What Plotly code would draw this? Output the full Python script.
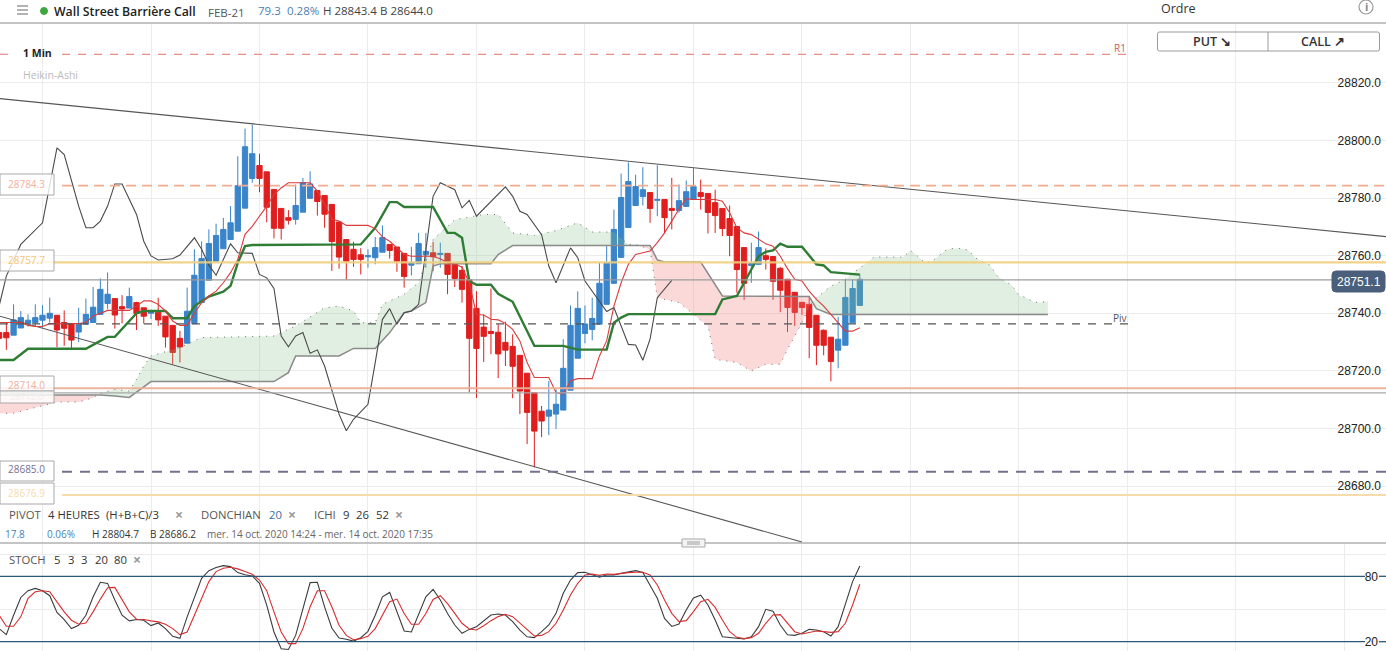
import numpy as np
import plotly.graph_objects as go

W, H = 1386, 651
BAR_PX, BAR0_PX = 7.233, 42.5   # chart scale: one 1-minute bar, and where bar 0 sits

bar_index = list(range(-6, 114))
opens = [28733.3,28733.3,28732.4,28734.9,28736.4,28736.8,28737.6,28738.3,28739.3,28736.8,28736.4,28733.5,28736.2,28736.8,28739.6,28743.4,28745.1,28742.3,28741.8,28743.7,
28741.9,28740.0,28740.4,28739.0,28735.8,28731.3,28729.6,28736.4,28743.7,28751.5,28758.1,28762.4,28765.6,28768.5,28776.5,28786.8,28791.3,28789.1,28783.0,28776.4,
28773.2,28772.6,28775.1,28779.9,28782.6,28780.9,28777.8,28771.7,28765.6,28762.2,28760.3,28759.6,28759.3,28761.2,28763.9,28763.0,28760.8,28756.7,28757.2,28760.3,
28761.0,28760.4,28760.8,28757.3,28754.9,28751.6,28741.7,28735.2,28733.7,28733.4,28729.9,28728.5,28725.4,28719.2,28712.4,28706.0,28704.3,28705.0,28706.4,28713.3,
28724.4,28733.0,28734.4,28736.2,28743.1,28750.4,28759.4,28769.8,28777.4,28780.5,28781.9,28779.2,28779.5,28776.4,28775.7,28777.1,28779.5,28781.9,28781.6,28778.4,
28776.4,28772.9,28770.1,28762.8,28756.6,28757.0,28760.0,28759.7,28755.6,28751.8,28747.3,28743.8,28743.1,28739.3,28734.1,28731.7,28727.2,28728.9,28736.7,28742.7]
highs = [28733.3,28736.7,28743.1,28740.8,28739.6,28743.1,28742.8,28745.4,28739.3,28741.0,28736.4,28741.9,28745.1,28749.1,28752.1,28754.2,28745.1,28746.3,28748.9,28744.0,
28741.9,28741.2,28745.4,28739.0,28735.8,28733.9,28748.9,28762.2,28765.0,28769.1,28771.1,28773.1,28777.2,28794.5,28804.1,28805.5,28795.4,28789.1,28783.0,28776.4,
28775.8,28784.7,28787.0,28789.3,28782.6,28780.9,28777.8,28771.7,28765.6,28764.8,28762.6,28762.2,28766.5,28770.5,28763.9,28763.0,28760.8,28763.1,28767.9,28767.9,
28764.8,28764.5,28760.8,28757.3,28756.4,28751.6,28747.7,28739.6,28748.6,28736.2,28737.1,28732.7,28725.4,28719.2,28712.4,28707.8,28716.5,28713.6,28731.0,28742.7,
28747.6,28742.7,28745.4,28757.5,28763.3,28776.0,28788.5,28792.4,28788.1,28790.7,28781.9,28791.4,28779.5,28787.0,28784.7,28786.1,28790.4,28786.4,28781.6,28782.9,
28776.4,28777.4,28770.1,28762.8,28764.5,28768.4,28762.5,28759.7,28756.1,28751.8,28747.3,28743.8,28745.9,28739.3,28734.4,28731.7,28738.8,28751.8,28751.8,28753.5]
lows = [28728.0,28727.3,28732.4,28734.9,28735.4,28735.4,28735.0,28736.8,28728.3,28728.7,28727.5,28730.0,28736.2,28736.8,28739.6,28741.4,28734.7,28736.5,28741.8,28734.2,
28736.4,28738.0,28735.6,28728.1,28722.3,28722.9,28729.6,28736.4,28743.7,28751.5,28758.1,28762.4,28765.6,28768.5,28776.5,28785.3,28782.0,28771.6,28766.0,28765.6,
28770.8,28770.8,28775.1,28779.9,28773.9,28769.7,28754.7,28755.5,28751.5,28756.1,28753.5,28755.8,28757.0,28761.2,28759.0,28754.4,28748.9,28753.1,28757.2,28755.8,
28754.6,28755.8,28746.6,28749.1,28743.7,28712.5,28710.6,28723.1,28725.8,28717.5,28721.7,28710.5,28705.0,28694.6,28686.5,28697.0,28697.7,28699.8,28706.4,28713.3,
28724.4,28729.6,28730.6,28736.2,28743.1,28750.4,28759.4,28769.8,28777.4,28777.4,28771.4,28773.7,28767.7,28769.1,28774.9,28777.1,28779.5,28776.0,28767.7,28767.9,
28766.8,28759.8,28747.1,28744.6,28750.6,28757.0,28755.2,28744.6,28740.4,28733.5,28735.6,28739.4,28724.4,28722.0,28725.4,28716.4,28720.9,28728.9,28736.7,28742.7]
closes = [28731.3,28731.5,28737.7,28738.5,28737.6,28738.5,28739.3,28740.0,28734.2,28734.8,28730.7,28736.1,28739.6,28742.1,28748.3,28746.6,28739.4,28741.5,28745.8,28739.9,
28739.0,28740.5,28737.7,28731.8,28726.4,28728.3,28740.7,28753.2,28759.0,28764.2,28767.0,28769.1,28771.4,28784.3,28797.8,28795.4,28786.8,28776.8,28769.5,28769.5,
28772.3,28777.4,28785.3,28784.9,28778.8,28774.4,28764.9,28759.5,28758.1,28758.7,28758.7,28760.0,28762.8,28766.3,28761.8,28758.1,28752.8,28757.6,28764.2,28761.5,
28759.6,28760.8,28753.5,28752.1,28748.3,28731.3,28727.8,28732.0,28733.0,28725.9,28727.2,28721.6,28713.0,28705.6,28699.1,28702.6,28706.4,28708.4,28720.9,28735.8,
28741.7,28736.3,28738.2,28750.4,28757.6,28769.1,28780.2,28785.7,28784.0,28782.9,28776.4,28779.5,28773.2,28775.7,28779.1,28782.2,28784.0,28780.5,28775.0,28773.9,
28769.4,28767.0,28755.2,28750.4,28757.3,28762.8,28758.7,28751.1,28748.0,28742.0,28740.3,28742.0,28735.1,28728.9,28728.9,28723.3,28731.0,28745.5,28748.6,28751.8]

tenkan_x = list(range(-6, 114))
tenkan = [28736.8,28736.8,28736.8,28736.8,28735.8,28735.4,28735.4,28736.4,28736.4,28736.4,28736.4,28736.4,28736.8,28739.1,28740.0,28741.0,28741.0,28741.0,28741.0,28742.5,
28744.3,28744.3,28743.1,28740.8,28737.3,28735.8,28735.8,28740.0,28743.7,28746.0,28747.7,28750.6,28754.1,28758.7,28767.4,28770.2,28773.7,28777.2,28781.2,28783.5,
28785.3,28785.3,28785.3,28785.3,28782.4,28777.8,28772.6,28772.0,28770.5,28770.5,28770.5,28770.5,28769.4,28766.5,28765.0,28762.7,28760.4,28759.8,28759.8,28759.8,
28759.8,28758.9,28757.5,28757.0,28756.1,28750.6,28739.6,28739.4,28737.9,28737.7,28736.5,28734.4,28730.4,28722.9,28717.7,28717.7,28717.7,28712.5,28711.9,28716.5,
28717.3,28717.3,28717.3,28725.2,28730.4,28742.5,28750.6,28757.0,28760.4,28761.0,28761.6,28764.5,28767.9,28772.0,28776.2,28779.8,28779.5,28779.5,28779.5,28779.5,
28778.9,28774.9,28769.7,28767.9,28767.3,28765.8,28764.1,28763.3,28759.8,28755.5,28751.8,28751.2,28747.7,28744.8,28742.5,28739.6,28736.7,28733.8,28733.8,28735.0]

kijun_x = [-6,-4,-2,6,8,9,10,13,14,17,18,20,21,23,25,26,27,28,29,44,46,48,49,50,54,56,57,58,59,60,62,63,65,68,72,74,78,79,80,81,93,94,96,99,100,101,102,103,105,107,108,109,113]
kijun = [28723.8,28723.8,28727.7,28727.7,28730.4,28731.8,28731.8,28740.0,28740.8,28740.8,28738.3,28738.3,28742.5,28745.8,28747.5,28749.5,28757.5,28763.3,28763.7,28763.9,28769.7,28778.6,28778.6,28776.9,28776.9,28767.9,28767.9,28766.2,28751.2,28749.9,28749.9,28746.8,28744.0,28728.7,28728.7,28727.4,28727.4,28736.7,28738.5,28739.7,28739.7,28744.8,28746.0,28759.8,28761.3,28761.8,28764.2,28763.1,28763.1,28757.0,28756.6,28754.3,28753.4]

chikou_x = [-6,-5,-3,0,2,3,5,6,7,8,9,10,11,13,14,15,16,18,19,21,22,23,24,26,27,29,30,31,32,33,34,35,36,37,38,39,41,42,43,44,45,46,47,48,49,50,51,52,53,54,55,57,58,59,60,64,65,66,67,69,70,71,73,74,75,76,78,79,81,82,83,84,85,87]
chikou = [28742.5,28752.9,28763.9,28771.4,28797.4,28795.1,28777.2,28769.7,28769.7,28772.0,28777.2,28784.9,28784.9,28774.3,28765.0,28759.9,28758.5,28758.9,28760.2,28766.2,28762.2,28756.7,28753.2,28764.1,28761.0,28760.8,28753.5,28752.3,28748.6,28732.1,28728.4,28732.1,28733.3,28726.1,28727.3,28721.7,28705.0,28699.2,28703.2,28705.9,28708.4,28722.9,28737.9,28741.6,28736.2,28740.2,28740.8,28743.1,28762.2,28780.6,28785.3,28782.9,28776.6,28779.2,28773.7,28783.9,28780.6,28775.4,28774.3,28767.3,28756.4,28750.6,28762.7,28759.3,28751.2,28747.7,28740.6,28742.0,28729.2,28729.0,28723.7,28731.0,28745.4,28751.4]

senkou_a_x = [-6,-4,-1,2,5,7,8,10,12,13,14,15,19,22,23,26,32,35,39,41,43,44,46,47,50,52,54,57,60,61,63,65,68,71,74,76,79,81,82,84,85,88,92,93,96,98,100,102,103,105,106,107,109,111,113,114,115,116,119,120,121,122,123,124,125,126,127,128,129,130,131,132,133,134,135,136,137,138,139]
senkou_a = [28705.3,28705.3,28707.3,28709.2,28709.2,28710.7,28712.2,28713.6,28713.0,28717.1,28721.7,28725.2,28728.1,28731.6,28731.6,28731.8,28732.1,28735.6,28741.9,28742.5,28740.8,28736.7,28736.7,28743.1,28746.6,28750.6,28765.6,28772.5,28773.7,28774.3,28774.3,28767.9,28767.0,28768.7,28771.4,28768.2,28768.2,28763.9,28763.9,28762.2,28745.4,28743.7,28735.6,28724.0,28722.9,28720.0,28722.3,28722.3,28727.5,28736.7,28742.5,28745.4,28749.4,28751.8,28755.8,28757.5,28759.6,28759.5,28759.5,28761.8,28759.8,28757.5,28758.1,28760.2,28762.1,28762.5,28762.5,28761.9,28759.2,28757.8,28756.7,28752.9,28751.1,28749.8,28746.2,28745.4,28743.9,28743.7,28744.2]
senkou_b_x = [-6,8,10,12,15,32,34,35,41,43,46,48,50,51,53,54,55,62,63,65,84,85,86,91,94,106,107,109,139]
senkou_b = [28711.6,28711.6,28711.3,28710.8,28716.3,28716.3,28719.4,28725.2,28725.2,28727.8,28727.8,28733.3,28740.2,28740.8,28743.7,28756.4,28757.2,28757.2,28760.4,28763.5,28763.5,28758.5,28757.8,28757.8,28746.0,28745.8,28741.6,28739.6,28739.6]
cloud_red_spans = [(-6, 7.6), (82.6, 106.5)]
cloud_green_spans = [(7.6, 82.6), (106.5, 139)]

stoch_k = [32.0,26.5,44.3,60.6,66.8,68.9,66.8,62.2,46.8,40.3,32.0,35.1,44.3,61.2,74.5,73.5,58.2,44.3,39.1,40.3,39.7,34.8,37.2,32.0,24.9,23.1,42.8,61.2,78.2,85.2,88.0,89.8,88.9,83.4,81.5,80.3,73.5,53.5,28.9,13.5,12.9,25.8,50.5,74.2,74.5,52.0,32.6,23.4,22.2,20.6,23.7,29.5,44.3,61.2,65.2,47.4,29.8,28.9,45.8,61.2,68.0,58.2,45.8,
35.3,27.7,31.3,33.8,39.3,44.5,45.4,44.5,38.4,30.7,24.5,23.7,29.2,35.3,46.0,64.4,76.6,83.4,83.7,81.2,79.1,81.2,81.2,82.8,83.7,85.2,83.4,72.0,59.8,41.4,34.0,36.2,49.1,60.1,62.6,53.7,39.9,24.5,23.7,23.1,22.5,24.5,33.8,49.7,47.9,35.3,26.4,25.8,27.7,31.3,30.7,29.2,25.2,33.8,55.2,75.1,89.5]
stoch_d = [44.3,34.2,34.2,42.8,59.7,65.8,66.8,65.8,56.6,47.4,39.7,36.0,37.2,47.4,59.1,69.5,69.8,58.2,47.4,40.6,40.3,39.1,38.2,36.0,32.0,26.5,28.9,44.3,59.7,75.1,84.3,87.4,88.3,86.8,84.3,81.8,76.6,66.8,47.4,28.9,18.2,18.2,32.0,52.0,66.8,66.8,52.0,35.1,25.8,21.8,22.8,24.9,32.0,44.3,56.6,59.1,45.8,36.0,36.0,45.8,58.8,62.2,55.0,
46.0,36.9,31.7,30.7,34.7,39.3,43.0,45.1,43.0,36.9,30.7,25.2,25.8,29.2,36.9,49.1,62.9,73.6,81.2,82.1,80.9,82.1,81.8,82.8,83.4,83.7,83.7,81.2,72.0,58.3,46.0,38.4,39.3,47.6,56.7,58.9,51.5,39.9,29.2,24.0,22.8,23.7,27.7,36.9,44.5,44.8,36.9,29.2,27.1,28.3,29.8,29.2,28.6,29.2,36.9,53.7,72.7]

trend_upper_x = [-5.9, 185.8]
trend_upper = [28814.5, 28766.6]
trend_lower_x = [-5.9, 105]
trend_lower = [28739.0, 28660.6]

price_ticks = [28680,28700,28720,28740,28760,28780,28800,28820]
stoch_ticks = [20,50,80,100]
stoch_tick_text = ["20","","80",""]
level_r1 = 28829.9
level_resist = 28784.3
level_yellow = 28757.7
level_last = 28751.6
level_piv = 28736.3
level_orange = 28714.0
level_gray = 28712.4
level_dark = 28685.0
level_pale = 28676.9
stoch_hi, stoch_lo = 80, 20

BLUE = "#3a84c9"; RED = "#e01e1e"
FONT = "Open Sans"

def px_to_x(p): return p / W
def px_to_y(p): return 1 - p / H
def bar_at(p): return (p - BAR0_PX) / BAR_PX

x_range = [bar_at(0), bar_at(W)]
split = 543

fig = go.Figure()
fig.add_trace(go.Candlestick(x=bar_index, open=opens, high=highs, low=lows, close=closes,
    increasing=dict(line=dict(color=BLUE, width=1), fillcolor=BLUE),
    decreasing=dict(line=dict(color=RED, width=1), fillcolor=RED),
    whiskerwidth=0, hoverinfo="skip", xaxis="x", yaxis="y"))

def cloud(span, color):
    a, b = span
    ax = np.array(senkou_a_x, float); ay = np.array(senkou_a, float)
    bx = np.array(senkou_b_x, float); by = np.array(senkou_b, float)
    ma = (ax > a) & (ax < b); mb = (bx > a) & (bx < b)
    xs = [a] + ax[ma].tolist() + [b, b] + bx[mb].tolist()[::-1] + [a, a]
    ys = ([np.interp(a, ax, ay)] + ay[ma].tolist() + [np.interp(b, ax, ay), np.interp(b, bx, by)]
          + by[mb].tolist()[::-1] + [np.interp(a, bx, by), np.interp(a, ax, ay)])
    fig.add_trace(go.Scatter(x=xs, y=ys, mode="lines", line=dict(width=0), fill="toself",
                             fillcolor=color, hoverinfo="skip", xaxis="x", yaxis="y"))

for s in cloud_red_spans:
    cloud(s, "rgba(243,130,130,0.30)")
for s in cloud_green_spans:
    cloud(s, "rgba(130,190,135,0.25)")

def line(x, y, color, width, dash="solid", xa="x", ya="y", shape="linear"):
    fig.add_trace(go.Scatter(x=x, y=y, mode="lines", line=dict(color=color, width=width, dash=dash, shape=shape),
                             hoverinfo="skip", xaxis=xa, yaxis=ya))

line(senkou_b_x, senkou_b, "#8a8a8a", 1.5)
line(senkou_a_x, senkou_a, "#6e6e6e", 1, dash="1px,6px")
line(trend_upper_x, trend_upper, "#555555", 1.1)
line(trend_lower_x, trend_lower, "#555555", 1.1)
line(chikou_x, chikou, "#4a4a4a", 1.1)
line(kijun_x, kijun, "#2f7d34", 2.4)
line(tenkan_x, tenkan, "#d93c3c", 1.1)
line(bar_index, stoch_k, "#3c3c3c", 1.1, xa="x2", ya="y2")
line(bar_index, stoch_d, "#d62e2e", 1.1, xa="x2", ya="y2")

shapes = []
def hline(val, x0, x1, color, width=1, dash="solid", yref="y", opacity=1):
    shapes.append(dict(type="line", xref="paper", yref=yref, x0=px_to_x(x0), x1=px_to_x(x1), y0=val, y1=val,
                       line=dict(color=color, width=width, dash=dash), opacity=opacity, layer="above"))
hline(level_r1, 0, 10, "#e88c8c", 1.2, "8px,8px")
hline(level_r1, 62, 1128, "#e88c8c", 1.2, "8px,8px")
hline(level_resist, 62, W, "#f3ab92", 1.6, "10px,6px")
hline(level_yellow, 0, W, "#f0cf7d", 2.2, opacity=.9)
hline(level_last, 0, 1332, "#9c9c9c", 1.2)
hline(level_piv, 0, 1128, "#555555", 1.2, "8px,8px")
hline(level_orange, 0, W, "#ecae96", 2, opacity=.95)
hline(level_gray, 0, W, "#a8a8a8", 1.2)
hline(level_dark, 62, W, "#76708f", 2, "10px,8px")
hline(level_pale, 62, W, "#f6dcaa", 2)
for seg in [(0, 1365), (1379, W)]:
    hline(stoch_hi, seg[0], seg[1], "#2c5878", 1.3, yref="y2")
    hline(stoch_lo, seg[0], seg[1], "#2c5878", 1.3, yref="y2")

def prect(x0, y0, x1, y1, fill="rgba(0,0,0,0)", lc="#a8a8a8", lw=1, op=1):
    shapes.append(dict(type="rect", xref="paper", yref="paper", x0=px_to_x(x0), x1=px_to_x(x1),
                       y0=px_to_y(y0), y1=px_to_y(y1), fillcolor=fill, opacity=op,
                       line=dict(color=lc, width=lw), layer="above"))
def pline(x0, y0, x1, y1, color="#b0b0b0", lw=1.3):
    shapes.append(dict(type="line", xref="paper", yref="paper", x0=px_to_x(x0), x1=px_to_x(x1),
                       y0=px_to_y(y0), y1=px_to_y(y1), line=dict(color=color, width=lw), layer="above"))
def rounded(x0, y0, x1, y1, r, fill, lc, lw=1):
    X = px_to_x; Y = px_to_y
    path = (f"M {X(x0+r)} {Y(y0)} L {X(x1-r)} {Y(y0)} Q {X(x1)} {Y(y0)} {X(x1)} {Y(y0+r)} "
            f"L {X(x1)} {Y(y1-r)} Q {X(x1)} {Y(y1)} {X(x1-r)} {Y(y1)} L {X(x0+r)} {Y(y1)} "
            f"Q {X(x0)} {Y(y1)} {X(x0)} {Y(y1-r)} L {X(x0)} {Y(y0+r)} Q {X(x0)} {Y(y0)} {X(x0+r)} {Y(y0)} Z")
    shapes.append(dict(type="path", xref="paper", yref="paper", path=path, fillcolor=fill,
                       line=dict(color=lc, width=lw), layer="above"))
def circle(cx, cy, r, fill, lc, lw=1):
    shapes.append(dict(type="circle", xref="paper", yref="paper", x0=px_to_x(cx-r), x1=px_to_x(cx+r),
                       y0=px_to_y(cy-r), y1=px_to_y(cy+r), fillcolor=fill, line=dict(color=lc, width=lw), layer="above"))

# left level boxes
BOXFILL = "rgba(255,255,255,0.8)"
for y0, y1 in [(174,195),(250,271),(376,391),(391,403),(461,481),(483,504)]:
    prect(0, y0, 54, y1, BOXFILL)
# panel frame
pline(0, 23, W, 23)
pline(0, split, W, split, "#b0b0b0", 1.5)
prect(682, 539, 705, 547, "#f4f4f4", "#a8a8a8", 1)
pline(687, 542, 700, 542, "#888888", 0.8); pline(687, 544, 700, 544, "#888888", 0.8)
# header glyphs
for yy in (6, 10, 14):
    pline(17, yy, 28, yy, "#666666", 1)
circle(44, 11, 3.5, "#3fa63f", "#3fa63f")
circle(1366, 7, 7, "rgba(0,0,0,0)", "#999999", 1.2)
rounded(1157.5, 32, 1379.5, 51, 2, "rgba(0,0,0,0)", "#9a9a9a", 1)
pline(1268, 32, 1268, 51, "#9a9a9a", 1)
rounded(1332, 271, 1385, 292, 4, "#4a5f7c", "#4a5f7c", 1)

ann = []
def t(x, y, s, size=11, color="#333333", anchor="left", family=FONT, weight=None):
    f = dict(family=family, size=size, color=color)
    if weight: f["weight"] = weight
    ann.append(dict(xref="paper", yref="paper", x=px_to_x(x), y=px_to_y(y), text=s, showarrow=False,
                    xanchor=anchor, yanchor="middle", font=f, borderpad=0))

t(53, 11, "Wall Street Barrière Call", 12.3, "#222222", weight=600)
t(207, 12, "FEB-21", 11.5, "#555555")
t(257, 10.5, "79.3", 11.5, "#4a7fb5"); t(286, 10.5, "0.28%", 11.5, "#4a7fb5")
t(322, 10.5, "H 28843.4", 11.5, "#444444"); t(379, 10.5, "B 28644.0", 11.5, "#444444")
t(1160, 8, "Ordre", 12.5, "#333333")
t(1366, 7, "i", 11, "#888888", "center", weight=700)
t(1212, 41, "PUT ↘", 12.5, "#333333", "center", weight=600)
t(1323, 41, "CALL ↗", 12.5, "#333333", "center", weight=600)
t(22, 53, "1 Min", 10.5, "#222222", weight=700)
t(22, 75, "Heikin-Ashi", 10.5, "#bbbbbb")
t(1120, 48, "R1", 10, "#d25a5a", "center")
t(1120, 318, "Piv", 10, "#555555", "center")
t(1358.5, 281.5, "28751.1", 12, "#ffffff", "center", family="Liberation Sans")
for yc, txt, col, sz in [(184,"28784.3","#f2b09a",10),(260,"28757.7","#f2c67d",10),(384.5,"28714.0","#eeb09a",10),(397,"28712.0","#eeeeee",9),(468.5,"28685.0","#76708f",10),(493,"28676.9","#f5dcae",10)]:
    t(26, yc, txt, sz, col, "center")
rows = [(514, [(8,"PIVOT","#555555"),(47,"4 HEURES","#333333"),(105,"(H+B+C)/3","#333333"),(174,"×","#999999"),
               (200,"DONCHIAN","#555555"),(268,"20","#3a6ea5"),(287,"×","#999999"),
               (313,"ICHI","#555555"),(342,"9","#333333"),(355,"26","#333333"),(375,"52","#333333"),(394,"×","#999999")]),
        (534, [(4,"17.8","#4a7fb5"),(46,"0.06%","#4a7fb5"),(91,"H 28804.7","#333333"),(149,"B 28686.2","#333333"),
               (206,"mer. 14 oct. 2020 14:24 - mer. 14 oct. 2020 17:35","#666666")]),
        (559, [(8,"STOCH","#555555"),(53,"5","#333333"),(67,"3","#333333"),(80,"3","#333333"),(94,"20","#333333"),(113,"80","#333333"),(132,"×","#999999")])]
for yy, items in rows:
    for xx, s, c in items:
        big = "×" in s
        t(xx, yy, s, 14 if big else (10 if yy == 534 else 11.3), c, weight=700 if big else None)

grid = "#ececec"
fig.update_layout(
    width=W, height=H, autosize=False, margin=dict(l=0, r=0, t=0, b=0),
    paper_bgcolor="white", plot_bgcolor="white", showlegend=False, hovermode=False,
    boxgap=0.27, boxgroupgap=0,
    shapes=shapes, annotations=ann,
    xaxis=dict(domain=[0, 1], range=x_range, anchor="y", tick0=0, dtick=15, showgrid=True, gridcolor=grid,
               showticklabels=False, ticks="", zeroline=False, rangeslider=dict(visible=False), showline=False),
    xaxis2=dict(domain=[0, 1], range=x_range, anchor="y2", tick0=0, dtick=15, showgrid=True, gridcolor=grid,
                showticklabels=False, ticks="", zeroline=False, showline=False),
    yaxis=dict(domain=[1 - split / H, 1 - 23 / H], range=[28660.26, 28840.76], side="right", anchor="x",
               tickmode="array", tickvals=price_ticks, tickformat=".1f", ticklabelposition="inside",
               ticks="", showgrid=True, gridcolor=grid, zeroline=False, ticklabelstandoff=2,
               tickfont=dict(family="Liberation Sans", size=12, color="#222222")),
    yaxis2=dict(domain=[0, 1 - split / H], range=[11.47, 110.55], side="right", anchor="x2",
                tickmode="array", tickvals=stoch_ticks, ticktext=stoch_tick_text, ticklabelposition="inside",
                ticks="", showgrid=True, gridcolor=grid, zeroline=False, ticklabelstandoff=5,
                tickfont=dict(family="Liberation Sans", size=12, color="#222222")),
)
fig.write_html("out.html", config=dict(displayModeBar=False),
               post_script="document.body.style.margin='0';")
